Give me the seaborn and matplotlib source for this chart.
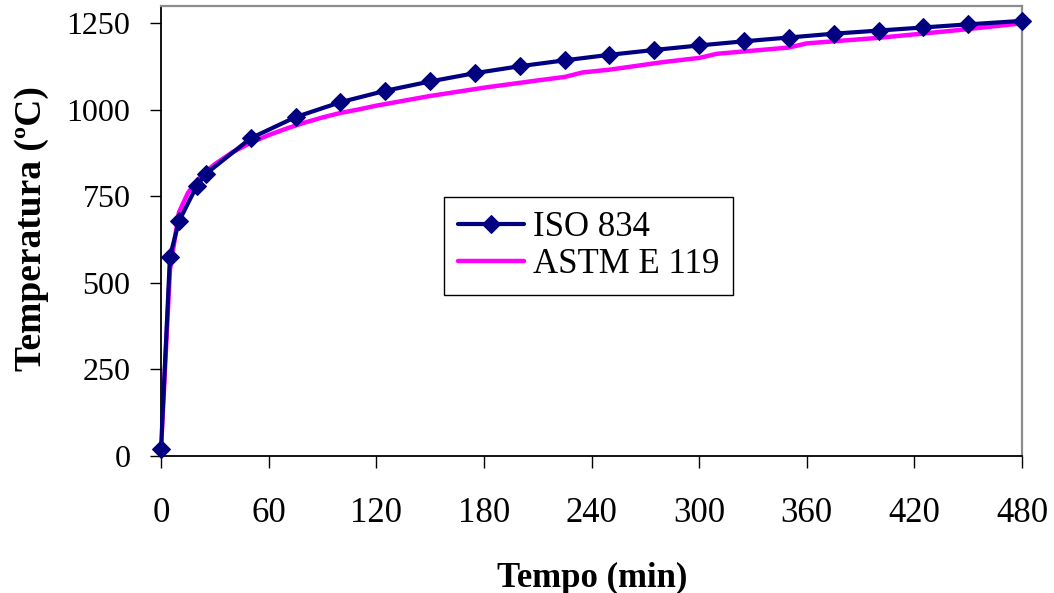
import matplotlib
matplotlib.use("Agg")
import matplotlib.pyplot as plt
import seaborn as sns
import pandas as pd

# ISO 834 standard fire curve (tabulated points, minutes / °C)
iso_time = [0, 5, 10, 20, 25, 50, 75, 100, 125, 150, 175, 200, 225, 250,
            275, 300, 325, 350, 375, 400, 425, 450, 480]
iso_temp = [20, 576, 678, 781, 815, 918, 979, 1022, 1055, 1082, 1106, 1126,
            1143, 1159, 1173, 1186, 1198, 1209, 1220, 1229, 1238, 1247, 1257]

# ASTM E 119 standard fire curve
astm_time = [0, 5, 10, 15, 20, 25, 30, 40, 50, 60, 70, 80, 90, 100, 110, 120,
             150, 180, 210, 225, 235, 250, 280, 300, 310, 350, 360, 400, 440, 480]
astm_temp = [20, 538, 704, 760, 795, 821, 843, 878, 905, 927, 946, 963, 978,
             991, 1001, 1012, 1040, 1064, 1085, 1095, 1108, 1116, 1138, 1150,
             1162, 1180, 1192, 1208, 1228, 1250]

x_ticks = [0, 60, 120, 180, 240, 300, 360, 420, 480]
y_ticks = [0, 250, 500, 750, 1000, 1250]

sns.set_theme(style="white")
plt.rcParams["font.family"] = ["Liberation Serif", "DejaVu Serif"]
plt.rcParams["text.color"] = "black"
plt.rcParams["axes.labelcolor"] = "black"
plt.rcParams["xtick.color"] = "black"
plt.rcParams["ytick.color"] = "black"

fig = plt.figure(figsize=(10.54, 5.93), dpi=100)
ax = fig.add_axes([161 / 1054, 1 - 456 / 593, 861 / 1054, 450 / 593])

iso_df = pd.DataFrame({"Tempo": iso_time, "Temperatura": iso_temp})
astm_df = pd.DataFrame({"Tempo": astm_time, "Temperatura": astm_temp})

sns.lineplot(data=astm_df, x="Tempo", y="Temperatura", ax=ax,
             color="#FF00FF", linewidth=3.2, label="ASTM E 119", zorder=2)
sns.lineplot(data=iso_df, x="Tempo", y="Temperatura", ax=ax,
             color="#000080", linewidth=3.0, marker="D", markersize=9.5,
             markeredgecolor="#000080", markerfacecolor="#000080",
             label="ISO 834", zorder=3, clip_on=False)

ax.set_xlim(0, 480)
ax.set_ylim(0, 1300)
ax.set_xticks(x_ticks)
ax.set_yticks(y_ticks)
ax.set_xticklabels([str(v) for v in x_ticks], fontsize=25, color="black")
ax.set_yticklabels([str(v) for v in y_ticks], fontsize=23, color="black")
ax.tick_params(axis="x", direction="out", length=8.5, width=1.0,
               color="black", pad=21, bottom=True)
ax.tick_params(axis="y", direction="out", length=8, width=1.0,
               color="black", pad=14, left=True)

for side in ["left", "bottom"]:
    ax.spines[side].set_color("black")
    ax.spines[side].set_linewidth(1.3)
for side in ["top", "right"]:
    ax.spines[side].set_color("#8C8C8C")
    ax.spines[side].set_linewidth(1.6)

ax.set_xlabel("Tempo (min)", fontsize=25, fontweight="bold", color="black")
ax.set_ylabel("Temperatura (ºC)", fontsize=27, fontweight="bold", color="black")
ax.xaxis.set_label_coords(0.5006, -0.235)
ax.yaxis.set_label_coords(-0.130, 0.505)

handles, labels = ax.get_legend_handles_labels()
order = [labels.index("ISO 834"), labels.index("ASTM E 119")]
leg = ax.legend([handles[i] for i in order], [labels[i] for i in order],
                loc="upper left", bbox_to_anchor=(444 / 1054, 1 - 197 / 593),
                bbox_transform=fig.transFigure, borderaxespad=0,
                fontsize=25, frameon=True, fancybox=False, framealpha=1,
                edgecolor="black", handlelength=1.9, handletextpad=0.25,
                labelspacing=0.12, borderpad=0.4)
leg.get_frame().set_linewidth(1.0)
for txt in leg.get_texts():
    txt.set_color("black")

fig.savefig("out.png", dpi=100)
